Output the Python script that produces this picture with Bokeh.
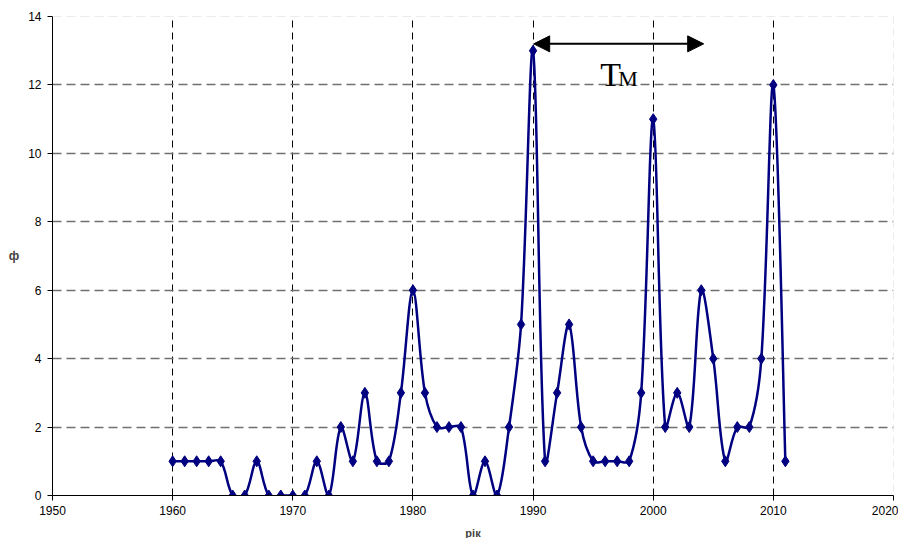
import numpy as np
from bokeh.plotting import figure
from bokeh.models import (Range1d, FixedTicker, Span, Arrow, NormalHead,
                          ColumnDataSource)
from bokeh.core.properties import value
from bokeh.embed import file_html
from bokeh.resources import INLINE

years = list(range(1960, 2012))
phi = [1, 1, 1, 1, 1, 0, 0, 1, 0, 0,
       0, 0, 1, 0, 2, 1, 3, 1, 1, 3,
       6, 3, 2, 2, 2, 0, 1, 0, 2, 5,
       13, 1, 3, 5, 2, 1, 1, 1, 1, 3,
       11, 2, 3, 2, 6, 4, 1, 2, 2, 4,
       12, 1]
x_ticks = [1950, 1960, 1970, 1980, 1990, 2000, 2010, 2020]
y_ticks = [0, 2, 4, 6, 8, 10, 12, 14]

p = figure(width=898, height=541, output_backend="svg", toolbar_location=None,
           x_range=Range1d(1950, 2020), y_range=Range1d(0, 14),
           min_border_left=52, min_border_right=5, min_border_top=16,
           min_border_bottom=43)
p.outline_line_color = None
p.background_fill_color = "white"
p.border_fill_color = "white"

# axes
for ax in (p.xaxis[0], p.yaxis[0]):
    ax.axis_line_color = "black"
    ax.axis_line_width = 1
    ax.major_tick_line_color = "black"
    ax.major_tick_out = 5
    ax.major_tick_in = 0
    ax.minor_tick_line_color = None
    ax.major_label_text_font = "Liberation Sans"
    ax.major_label_text_font_size = "12px"
    ax.major_label_text_color = "black"
p.xaxis.ticker = FixedTicker(ticks=x_ticks)
p.yaxis.ticker = FixedTicker(ticks=y_ticks)
p.xaxis.major_label_standoff = 5
p.yaxis.major_label_standoff = 6
p.xaxis.axis_label = "рік"
p.xaxis.axis_label_text_font = "Liberation Sans"
p.xaxis.axis_label_text_font_style = "bold"
p.xaxis.axis_label_text_font_size = "11px"
p.xaxis.axis_label_standoff = 9

# y label (upright)
p.yaxis.axis_label = "ф"
p.yaxis.axis_label_text_font = "Liberation Sans"
p.yaxis.axis_label_text_font_style = "bold"
p.yaxis.axis_label_text_font_size = "12px"
p.yaxis.axis_label_standoff = 6
try:
    p.yaxis.axis_label_orientation = "horizontal"
except Exception:
    pass

# grids
p.xgrid.ticker = FixedTicker(ticks=x_ticks[1:-1])
p.xgrid.grid_line_color = "black"
p.xgrid.grid_line_dash = "7 5"
p.xgrid.grid_line_width = 1
p.ygrid.ticker = FixedTicker(ticks=y_ticks[1:-1])
p.ygrid.grid_line_color = "#707070"
p.ygrid.grid_line_dash = "9 5"
p.ygrid.grid_line_width = 1.3
p.add_layout(Span(location=14, dimension="width", line_color="#d8d8d8",
                  line_dash="9 5", line_width=1))
p.add_layout(Span(location=2020, dimension="height", line_color="#d8d8d8",
                  line_dash="7 5", line_width=1))

# smoothed line: cubic Bezier segments with tangents scaled by the
# neighbouring segment lengths (measured in screen proportions)
SX, SY = 12.0, 34.2   # approx. px per year / px per unit
xs = np.array(years, dtype=float)
ys = np.array(phi, dtype=float)
n = len(xs)
xp = np.concatenate([[xs[0]], xs, [xs[-1]]])
yp = np.concatenate([[ys[0]], ys, [ys[-1]]])
tx = xp[2:] - xp[:-2]
ty = yp[2:] - yp[:-2]
seg = np.hypot(np.diff(xs) * SX, np.diff(ys) * SY)
dprev = np.concatenate([[seg[0]], seg])
dnext = np.concatenate([seg, [seg[-1]]])
tot = dprev + dnext
fout = dnext / tot / 3.0
fin = dprev / tot / 3.0
x0 = xs[:-1]; y0 = ys[:-1]; x1 = xs[1:]; y1 = ys[1:]
cx0 = x0 + tx[:-1] * fout[:-1]
cy0 = y0 + ty[:-1] * fout[:-1]
cx1 = x1 - tx[1:] * fin[1:]
cy1 = y1 - ty[1:] * fin[1:]
p.bezier(x0=x0, y0=y0, x1=x1, y1=y1, cx0=cx0, cy0=cy0, cx1=cx1, cy1=cy1,
         line_color="#000080", line_width=2.5)

src = ColumnDataSource(dict(x=years, y=phi))
p.scatter("x", "y", source=src, marker="diamond", size=11,
          fill_color="#000080", line_color="#000080")

# arrow and T_M annotation
head = dict(size=16, fill_color="black", line_color="black")
p.add_layout(Arrow(start=NormalHead(**head), end=NormalHead(**head),
                   x_start=1990.05, y_start=13.2, x_end=2004.2, y_end=13.2,
                   line_color="black", line_width=2))
p.text(x=[1995.6], y=[12.31], text=["T"], text_font=value("Liberation Serif"),
       text_font_size="34px", text_color="black", text_baseline="alphabetic",
       text_align="left")
p.text(x=[1997.1], y=[12.19], text=["M"], text_font=value("Liberation Serif"),
       text_font_size="22px", text_color="black", text_baseline="alphabetic",
       text_align="left")

open("out.html", "w").write(file_html(p, INLINE))
